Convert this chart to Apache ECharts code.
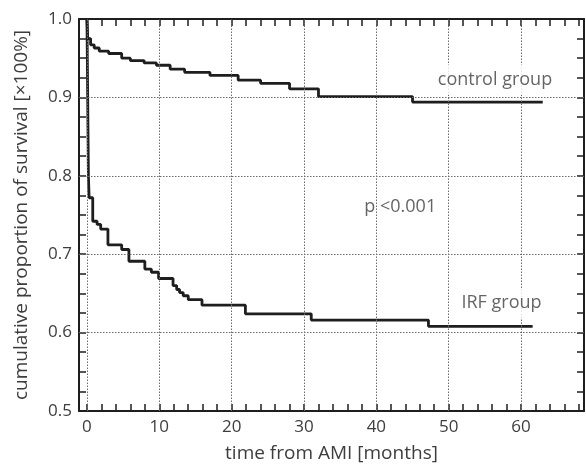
<!DOCTYPE html>
<html>
<head>
<meta charset="utf-8">
<script src="https://cdn.jsdelivr.net/npm/echarts@6/dist/echarts.min.js"></script>
<style>html,body{margin:0;padding:0;background:#fff}#c{width:586px;height:468px}</style>
</head>
<body>
<div id="c"></div>
<script>
// Kaplan-Meier step data: [months, proportion]
const controlGroup = [[0,1.0],[0.05,0.99],[0.1,0.975],[0.5,0.967],[1.0,0.963],[1.7,0.959],[3.0,0.956],[4.8,0.950],[6.0,0.947],[7.9,0.944],[9.6,0.941],[11.5,0.936],[13.5,0.932],[17.0,0.928],[20.9,0.922],[24.0,0.918],[28.0,0.911],[32.0,0.901],[45.0,0.894],[63.0,0.894]];
const irfGroup = [[0,1.0],[0.05,0.95],[0.1,0.9],[0.15,0.85],[0.2,0.8],[0.3,0.772],[0.8,0.742],[1.4,0.738],[1.9,0.732],[2.9,0.712],[4.8,0.706],[5.8,0.691],[8.0,0.681],[8.9,0.677],[9.9,0.669],[11.9,0.660],[12.4,0.655],[12.8,0.651],[13.3,0.647],[14.0,0.642],[15.9,0.635],[21.9,0.624],[31.0,0.616],[47.2,0.608],[61.6,0.608]];

const xLabels = [0,10,20,30,40,50,60];
const xMinorTicks = [0,2,4,6,8,10,12,14,16,18,20,22,24,26,28,30,32,34,36,38,40,42,44,46,48,50,52,54,56,58,60,62,64,66,68];
const yLabels = [0.5,0.6,0.7,0.8,0.9,1.0];
const xGrid = [0,10,20,30,40,50,60];
const yGrid = [0.6,0.7,0.8,0.9];

const annotTexts = ['control group','IRF group','p <0.001'];
const annotX = [56.4, 57.3, 43.3];
const annotY = [0.9225, 0.6375, 0.760];

const FONT = 'Open Sans';
const FW = 'normal';
const TXT = '#3d3d3d';
const INK = '#1e1e1e';

const chart = echarts.init(document.getElementById('c'), null, {renderer:'canvas'});

const axisLineStyle = {show:true, onZero:false, lineStyle:{color:INK, width:2}};
const tickStyle = {show:true, inside:true, length:7, lineStyle:{color:INK, width:1.5}};

const markLineData = [];
xGrid.forEach(v => markLineData.push({xAxis:v}));
yGrid.forEach(v => markLineData.push({yAxis:v}));

chart.setOption({
  animation:false,
  backgroundColor:'#fff',
  textStyle:{fontFamily:FONT, fontWeight:FW, color:TXT},
  grid:{left:79, top:19, right:2, bottom:56, containLabel:false},
  xAxis:[{
    type:'value', position:'bottom', min:-1.1, max:68.7,
    axisLine:axisLineStyle,
    axisTick:Object.assign({customValues:xMinorTicks}, tickStyle),
    axisLabel:{customValues:xLabels, fontSize:17, color:TXT, fontFamily:FONT, fontWeight:FW, margin:8},
    splitLine:{show:false},
    name:'time from AMI [months]', nameLocation:'middle', nameGap:33,
    nameTextStyle:{fontSize:19, color:TXT, fontFamily:FONT, fontWeight:FW}
  },{
    type:'value', position:'top', min:-1.1, max:68.7,
    axisLine:axisLineStyle,
    axisTick:Object.assign({customValues:xMinorTicks}, tickStyle),
    axisLabel:{show:false}, splitLine:{show:false}
  }],
  yAxis:[{
    type:'value', position:'left', min:0.5, max:1.0, interval:0.025,
    axisLine:axisLineStyle,
    axisTick:tickStyle,
    axisLabel:{customValues:yLabels, formatter:v => v.toFixed(1), fontSize:17, color:TXT, fontFamily:FONT, fontWeight:FW, margin:7},
    splitLine:{show:false},
    name:'cumulative proportion of survival [×100%]', nameLocation:'middle', nameGap:48,
    nameTextStyle:{fontSize:19, color:TXT, fontFamily:FONT, fontWeight:FW}
  },{
    type:'value', position:'right', min:0.5, max:1.0, interval:0.025,
    axisLine:axisLineStyle,
    axisTick:tickStyle,
    axisLabel:{show:false}, splitLine:{show:false}
  }],
  series:[
    {
      type:'line', data:[], z:1, silent:true,
      markLine:{silent:true, symbol:['none','none'], label:{show:false},
        lineStyle:{color:'#6a6a6a', type:[1.5,1.5], width:1}, data:markLineData, animation:false}
    },
    {
      type:'line', name:'control group', data:controlGroup, step:'end', showSymbol:false, z:3,
      lineStyle:{color:INK, width:2.8}
    },
    {
      type:'line', name:'IRF group', data:irfGroup, step:'end', showSymbol:false, z:3,
      lineStyle:{color:INK, width:2.8}
    },
    {
      type:'scatter', z:6, silent:true, symbolSize:0,
      data:annotTexts.map((t,i)=>({
        value:[annotX[i], annotY[i]],
        label:{show:true, position:'inside', formatter:t, fontSize:18, color:TXT,
          fontFamily:FONT, fontWeight:FW,
          backgroundColor: i<2 ? '#fff' : 'transparent', padding: i<2 ? [6,3] : 0}
      }))
    }
  ]
});
</script>
</body>
</html>
